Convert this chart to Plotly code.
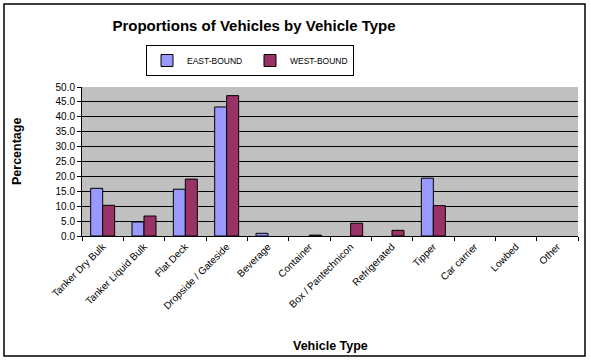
import plotly.graph_objects as go

categories = ["Tanker Dry Bulk", "Tanker Liquid Bulk", "Flat Deck", "Dropside / Gateside",
              "Beverage", "Container", "Box / Pantechnicon", "Refrigerated", "Tipper",
              "Car carrier", "Lowbed", "Other"]
east_bound = [16.0, 4.7, 15.7, 43.3, 0.9, None, None, None, 19.4, None, None, None]
west_bound = [10.3, 6.7, 19.1, 47.1, None, 0.3, 4.3, 1.9, 10.2, None, None, None]
y_ticks = [0, 5, 10, 15, 20, 25, 30, 35, 40, 45, 50]

FONT = "Liberation Sans, Arial, sans-serif"

fig = go.Figure()
fig.add_trace(go.Bar(x=categories, y=east_bound, name="EAST-BOUND",
                     marker=dict(color="#9999FF", line=dict(color="black", width=1))))
fig.add_trace(go.Bar(x=categories, y=west_bound, name="WEST-BOUND",
                     marker=dict(color="#993366", line=dict(color="black", width=1))))

W, H = 591, 361
L, R, T, B = 82, 578, 87, 236
pw, ph = R - L, B - T


def px_x(x):  # window x -> paper x
    return (x - L) / pw


def px_y(y):  # window y -> paper y
    return (B - y) / ph


fig.update_layout(
    width=W, height=H,
    margin=dict(l=L, r=W - R, t=T, b=H - B, autoexpand=False),
    paper_bgcolor="white", plot_bgcolor="#C0C0C0",
    barmode="group", bargap=0.42, bargroupgap=0,
    font=dict(family=FONT, color="black", size=9),
    title=dict(text="<b>Proportions of Vehicles by Vehicle Type</b>",
               x=254 / W, xanchor="center", xref="container",
               y=1 - 26 / H, yanchor="middle", yref="container",
               font=dict(size=15, family=FONT)),
    legend=dict(orientation="h", x=250 / W, xanchor="center", xref="container",
                y=1 - 45 / H, yanchor="top", yref="container",
                bordercolor="black", borderwidth=1, bgcolor="white",
                font=dict(size=8.5, family=FONT), itemwidth=30, entrywidth=58),
    xaxis=dict(type="category", tickangle=-45, ticks="outside", tickson="boundaries",
               ticklen=4, tickcolor="black", showline=True, linecolor="black", linewidth=1,
               tickfont=dict(size=10), showgrid=False),
    yaxis=dict(range=[0, 50], tickvals=y_ticks, tickformat=".1f", ticks="outside",
               ticklen=4, tickcolor="black", showline=True, linecolor="black", linewidth=1,
               gridcolor="black", gridwidth=1, zeroline=False, tickfont=dict(size=10)),
    annotations=[
        dict(text="<b>Percentage</b>", textangle=-90, x=px_x(17), y=px_y(152),
             xanchor="center", yanchor="middle",
             xref="paper", yref="paper", showarrow=False, font=dict(size=12.5)),
        dict(text="<b>Vehicle Type</b>", x=px_x(330), y=px_y(346),
             xanchor="center", yanchor="middle",
             xref="paper", yref="paper", showarrow=False, font=dict(size=12.5)),
    ],
)

# outer chart border
fig.add_shape(type="rect", xref="paper", yref="paper",
              x0=px_x(4), x1=px_x(585), y0=px_y(356), y1=px_y(4),
              line=dict(color="black", width=1.5), fillcolor="rgba(0,0,0,0)", layer="below")

fig.write_html("out.html", config={"displayModeBar": False},
               post_script="document.body.style.margin='0';document.body.style.padding='0';")
